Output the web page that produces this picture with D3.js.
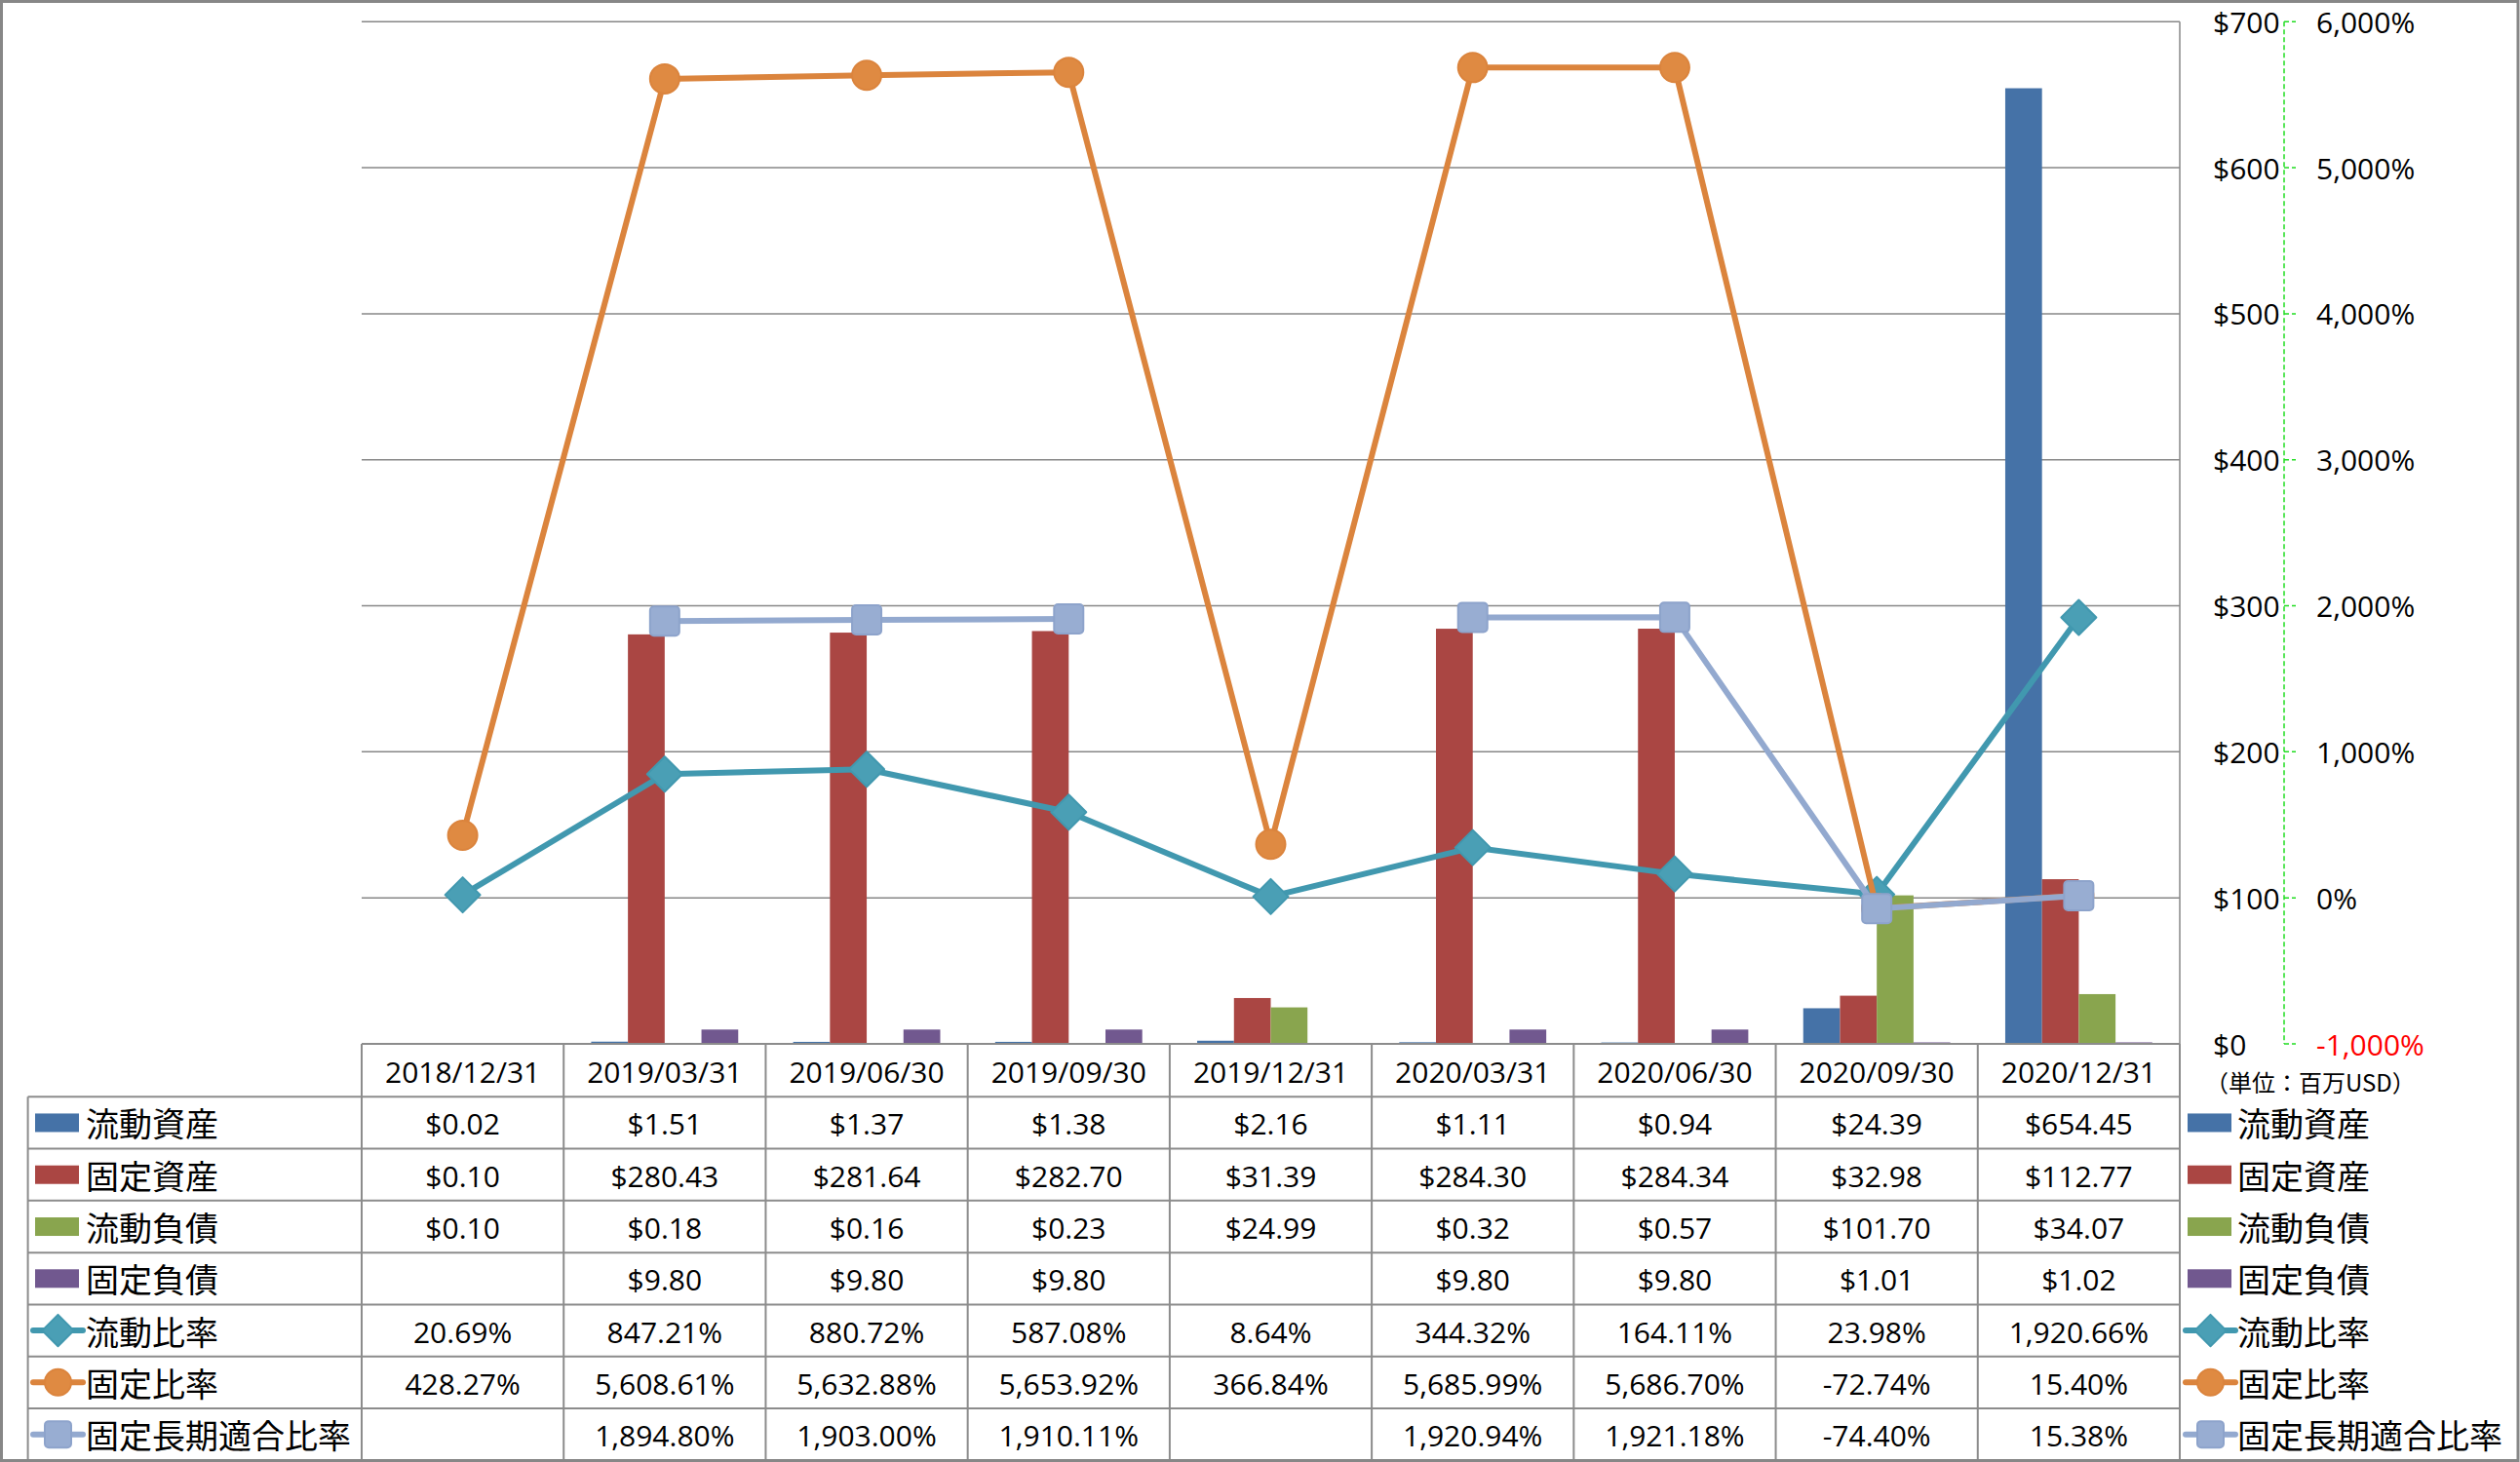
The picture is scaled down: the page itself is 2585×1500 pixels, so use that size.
<!DOCTYPE html>
<html>
<head>
<meta charset="utf-8">
<script src="https://cdn.jsdelivr.net/npm/d3@7"></script>
<style>
  html, body { margin: 0; padding: 0; background: #fff; }
  svg { display: block; }
  .num { font-family: "Open Sans", "Liberation Sans", sans-serif; font-size: 30px; fill: #000; }
  .cjk { font-family: "Noto Sans CJK JP", "Noto Sans CJK SC", sans-serif; font-size: 34px; fill: #000; }
  .unit { font-family: "Noto Sans CJK JP", sans-serif; font-size: 24px; fill: #000; }
</style>
</head>
<body>
<svg id="chart" width="2585" height="1500"></svg>
<script>
// ---------------- DATA ----------------
const categories = ["2018/12/31","2019/03/31","2019/06/30","2019/09/30","2019/12/31","2020/03/31","2020/06/30","2020/09/30","2020/12/31"];
const currentAssets   = [0.02, 1.51, 1.37, 1.38, 2.16, 1.11, 0.94, 24.39, 654.45];
const fixedAssets     = [0.10, 280.43, 281.64, 282.70, 31.39, 284.30, 284.34, 32.98, 112.77];
const currentLiab     = [0.10, 0.18, 0.16, 0.23, 24.99, 0.32, 0.57, 101.70, 34.07];
const fixedLiab       = [null, 9.80, 9.80, 9.80, null, 9.80, 9.80, 1.01, 1.02];
const currentRatio    = [20.69, 847.21, 880.72, 587.08, 8.64, 344.32, 164.11, 23.98, 1920.66];
const fixedRatio      = [428.27, 5608.61, 5632.88, 5653.92, 366.84, 5685.99, 5686.70, -72.74, 15.40];
const fixedLongRatio  = [null, 1894.80, 1903.00, 1910.11, null, 1920.94, 1921.18, -74.40, 15.38];
const leftTicks  = [0, 100, 200, 300, 400, 500, 600, 700];
const rightTicks = [-1000, 0, 1000, 2000, 3000, 4000, 5000, 6000];
const unitLabel = "（単位：百万USD）";

const barSeries = [
  {name: "流動資産", values: currentAssets, color: "#4572A7"},
  {name: "固定資産", values: fixedAssets,   color: "#AA4643"},
  {name: "流動負債", values: currentLiab,   color: "#89A54E"},
  {name: "固定負債", values: fixedLiab,     color: "#71588F"}
];
const lineSeries = [
  {name: "流動比率", values: currentRatio, color: "#4198AF", fill: "#4A9FB5", marker: "diamond"},
  {name: "固定比率", values: fixedRatio, color: "#DB843D", fill: "#DF8A42", marker: "circle"},
  {name: "固定長期適合比率", values: fixedLongRatio, color: "#93A9CF", fill: "#98ADD2", marker: "square"}
];

// ---------------- LAYOUT ----------------
const W = 2585, H = 1500;
const plotL = 371, plotR = 2236, plotT = 22.3, plotB = 1071;
const tableTop = 1071, headerB = 1125.3, tableB = 1498.3;
const legendL = 28.6;

const loc = d3.formatLocale({decimal: ".", thousands: ",", grouping: [3], currency: ["$", ""], minus: "-"});
const fmtMoney = loc.format("$,.2f");
const fmtPct = v => loc.format(",.2f")(v) + "%";
const fmtTickL = loc.format("$,.0f");
const fmtTickR = v => loc.format(",.0f")(v) + "%";

const svg = d3.select("#chart");
svg.append("rect").attr("x", 0).attr("y", 0).attr("width", W).attr("height", H).attr("fill", "#fff");

const x = d3.scaleBand().domain(categories).range([plotL, plotR]).padding(0);
const bw = x.bandwidth();
const xInner = d3.scaleBand().domain(barSeries.map(d => d.name)).range([bw * 0.136, bw * 0.864]).padding(0);
const yL = d3.scaleLinear().domain([0, 700]).range([plotB, plotT]);
const yR = d3.scaleLinear().domain([-1000, 6000]).range([plotB, plotT]);

// gridlines
const gridColor = "#878787";
svg.append("g").selectAll("line").data(leftTicks.filter(t => t > 0)).join("line")
  .attr("x1", plotL).attr("x2", plotR)
  .attr("y1", d => yL(d)).attr("y2", d => yL(d))
  .attr("stroke", gridColor).attr("stroke-width", 1.5);
// plot right border
svg.append("line").attr("x1", plotR).attr("x2", plotR).attr("y1", plotT).attr("y2", plotB)
  .attr("stroke", gridColor).attr("stroke-width", 1.5);

// bars
const gBars = svg.append("g");
barSeries.forEach(s => {
  gBars.append("g").selectAll("rect").data(categories.map((c, i) => ({c, v: s.values[i]})).filter(d => d.v != null))
    .join("rect")
    .attr("x", d => x(d.c) + xInner(s.name))
    .attr("width", xInner.bandwidth())
    .attr("y", d => yL(d.v))
    .attr("height", d => Math.max(0.8, plotB - yL(d.v)))
    .attr("fill", s.color);
});

// markers
function drawMarker(g, type, cx, cy, s, scale = 1) {
  if (type === "diamond") {
    const r = 18 * scale;
    g.append("path").attr("d", `M${cx},${cy - r}L${cx + r},${cy}L${cx},${cy + r}L${cx - r},${cy}Z`)
      .attr("fill", s.fill).attr("stroke", s.color).attr("stroke-width", 2).attr("stroke-linejoin", "round");
  } else if (type === "circle") {
    g.append("circle").attr("cx", cx).attr("cy", cy).attr("r", 15 * scale)
      .attr("fill", s.fill).attr("stroke", s.color).attr("stroke-width", 2);
  } else {
    const h = 15 * scale;
    g.append("rect").attr("x", cx - h).attr("y", cy - h).attr("width", 2 * h).attr("height", 2 * h)
      .attr("rx", 4).attr("fill", s.fill).attr("stroke", "#8DA3CB").attr("stroke-width", 2);
  }
}

// lines
const gLines = svg.append("g");
lineSeries.forEach(s => {
  const pts = categories.map((c, i) => ({c, v: s.values[i]}));
  const line = d3.line().defined(d => d.v != null)
    .x(d => x(d.c) + bw / 2).y(d => yR(d.v));
  const g = gLines.append("g");
  g.append("path").attr("d", line(pts)).attr("fill", "none")
    .attr("stroke", s.color).attr("stroke-width", 6).attr("stroke-linejoin", "round");
  pts.filter(d => d.v != null).forEach(d => drawMarker(g, s.marker, x(d.c) + bw / 2, yR(d.v), s));
});

// right axes
const axisX = 2343;
svg.append("line").attr("x1", axisX).attr("x2", axisX).attr("y1", plotT).attr("y2", plotB)
  .attr("stroke", "#22DD22").attr("stroke-width", 1.5).attr("stroke-dasharray", "5,3");
svg.append("g").selectAll("line").data(leftTicks).join("line")
  .attr("x1", axisX).attr("x2", axisX + 12)
  .attr("y1", d => yL(d)).attr("y2", d => yL(d))
  .attr("stroke", "#22DD22").attr("stroke-width", 1.5).attr("stroke-dasharray", "5,3");
svg.append("g").selectAll("text").data(leftTicks).join("text")
  .attr("class", "num").attr("x", 2270).attr("y", d => yL(d))
  .attr("dominant-baseline", "central").text(d => fmtTickL(d));
svg.append("g").selectAll("text").data(rightTicks).join("text")
  .attr("class", "num").attr("x", 2376).attr("y", d => yR(d))
  .attr("dominant-baseline", "central")
  .attr("fill", d => d < 0 ? "#FF0000" : "#000")
  .style("fill", d => d < 0 ? "#FF0000" : "#000")
  .text(d => fmtTickR(d));
svg.append("text").attr("class", "unit").attr("x", 2262).attr("y", 1109)
  .attr("dominant-baseline", "central").text(unitLabel);

// ---------------- DATA TABLE ----------------
const rows = [
  ...barSeries.map(s => ({...s, kind: "bar", fmt: fmtMoney})),
  ...lineSeries.map(s => ({...s, kind: "line", fmt: fmtPct}))
];
const yRow = d3.scaleBand().domain(rows.map(r => r.name)).range([headerB, tableB]).padding(0);
const rh = yRow.bandwidth();
const tbl = svg.append("g");
const lineC = "#8C8C8C";

// horizontal lines
tbl.append("line").attr("x1", plotL).attr("x2", plotR).attr("y1", tableTop).attr("y2", tableTop)
  .attr("stroke", lineC).attr("stroke-width", 2);
tbl.selectAll("line.h").data(rows).join("line").attr("class", "h")
  .attr("x1", legendL).attr("x2", plotR)
  .attr("y1", d => yRow(d.name)).attr("y2", d => yRow(d.name))
  .attr("stroke", lineC).attr("stroke-width", 2);
// vertical lines
tbl.selectAll("line.v").data(categories).join("line").attr("class", "v")
  .attr("x1", d => x(d)).attr("x2", d => x(d)).attr("y1", tableTop).attr("y2", tableB)
  .attr("stroke", lineC).attr("stroke-width", 2);
tbl.append("line").attr("x1", plotR).attr("x2", plotR).attr("y1", tableTop).attr("y2", tableB)
  .attr("stroke", lineC).attr("stroke-width", 2);
tbl.append("line").attr("x1", legendL).attr("x2", legendL).attr("y1", headerB).attr("y2", tableB)
  .attr("stroke", lineC).attr("stroke-width", 2);

// header labels
tbl.selectAll("text.hdr").data(categories).join("text").attr("class", "num hdr")
  .attr("x", d => x(d) + bw / 2).attr("y", (tableTop + headerB) / 2 + 1)
  .attr("text-anchor", "middle").attr("dominant-baseline", "central").text(d => d);

// cells
rows.forEach(r => {
  const cy = yRow(r.name) + rh / 2 + 1;
  tbl.append("g").selectAll("text").data(categories.map((c, i) => ({c, v: r.values[i]})).filter(d => d.v != null))
    .join("text").attr("class", "num")
    .attr("x", d => x(d.c) + bw / 2).attr("y", cy)
    .attr("text-anchor", "middle").attr("dominant-baseline", "central")
    .text(d => r.fmt(d.v));
});

// legend keys (left in table, right outside)
function legendKey(g, r, x0, x1, cy, textX) {
  if (r.kind === "bar") {
    g.append("rect").attr("x", x0).attr("y", cy - 9.5).attr("width", x1 - x0).attr("height", 19).attr("fill", r.color);
  } else {
    g.append("line").attr("x1", x0 - 2).attr("x2", x1 + 4).attr("y1", cy).attr("y2", cy)
      .attr("stroke", r.color).attr("stroke-width", 6).attr("stroke-linecap", "round");
    drawMarker(g, r.marker, (x0 + x1) / 2 + 1, cy, r, 0.9);
  }
  g.append("text").attr("class", "cjk").attr("x", textX).attr("y", cy)
    .attr("dominant-baseline", "central").text(r.name);
}
const leg = svg.append("g");
rows.forEach(r => {
  const cy = yRow(r.name) + rh / 2;
  legendKey(leg, r, 36, 81, cy, 88);
  legendKey(leg, r, 2244, 2289, cy, 2295);
});

// outer border
svg.append("rect").attr("x", 1.5).attr("y", 1.5).attr("width", W - 3.5).attr("height", H - 3)
  .attr("fill", "none").attr("stroke", "#878787").attr("stroke-width", 3);
</script>
</body>
</html>
